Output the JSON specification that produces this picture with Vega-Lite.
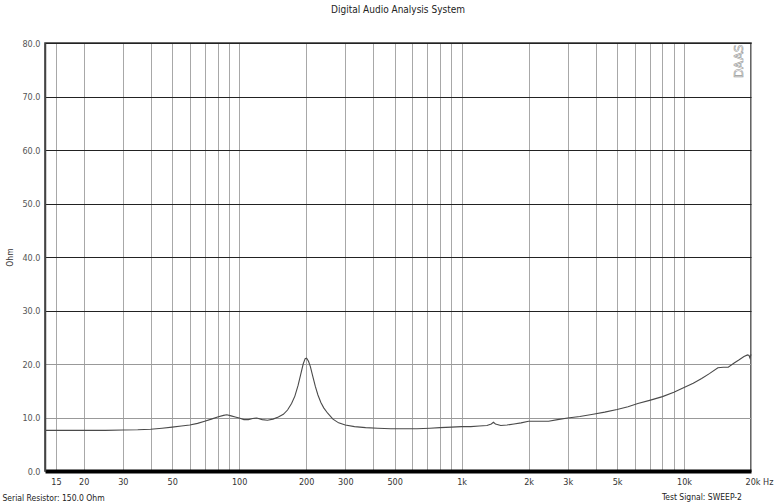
{
  "$schema": "https://vega.github.io/schema/vega-lite/v6.json",
  "width": 706,
  "height": 428,
  "autosize": {"type": "none"},
  "padding": {"left": 45, "top": 43, "right": 30, "bottom": 32},
  "background": "white",
  "title": {
    "text": "Digital Audio Analysis System",
    "fontSize": 10,
    "fontWeight": "normal",
    "font": "Liberation Sans Narrow, DejaVu Sans Condensed, Arial Narrow, sans-serif",
    "color": "#222",
    "anchor": "middle",
    "offset": 24
  },
  "config": {
    "view": {"stroke": "#333", "strokeWidth": 1.5},
    "font": "Liberation Sans Narrow, DejaVu Sans Condensed, Arial Narrow, sans-serif"
  },
  "layer": [
    {
      "data": {
        "values": [
          {"f": 13.4, "ohm": 7.6}, {"f": 15, "ohm": 7.6}, {"f": 20, "ohm": 7.6}, {"f": 25, "ohm": 7.6},
          {"f": 30, "ohm": 7.65}, {"f": 35, "ohm": 7.7}, {"f": 40, "ohm": 7.8}, {"f": 45, "ohm": 8.0},
          {"f": 50, "ohm": 8.2}, {"f": 55, "ohm": 8.4}, {"f": 60, "ohm": 8.6}, {"f": 65, "ohm": 8.9},
          {"f": 70, "ohm": 9.3}, {"f": 75, "ohm": 9.7}, {"f": 80, "ohm": 10.1}, {"f": 85, "ohm": 10.4},
          {"f": 88, "ohm": 10.5}, {"f": 92, "ohm": 10.3}, {"f": 96, "ohm": 10.1}, {"f": 100, "ohm": 9.9},
          {"f": 105, "ohm": 9.6}, {"f": 110, "ohm": 9.6}, {"f": 115, "ohm": 9.8}, {"f": 120, "ohm": 9.9},
          {"f": 127, "ohm": 9.6}, {"f": 134, "ohm": 9.5}, {"f": 142, "ohm": 9.7}, {"f": 150, "ohm": 10.1},
          {"f": 158, "ohm": 10.6}, {"f": 165, "ohm": 11.4}, {"f": 172, "ohm": 12.6}, {"f": 178, "ohm": 14.0},
          {"f": 184, "ohm": 16.0}, {"f": 189, "ohm": 18.0}, {"f": 194, "ohm": 20.0}, {"f": 198, "ohm": 21.0},
          {"f": 201, "ohm": 21.1}, {"f": 205, "ohm": 20.5}, {"f": 209, "ohm": 19.5}, {"f": 214, "ohm": 17.8},
          {"f": 220, "ohm": 15.8}, {"f": 226, "ohm": 14.2}, {"f": 233, "ohm": 12.8}, {"f": 240, "ohm": 11.8},
          {"f": 250, "ohm": 10.8}, {"f": 264, "ohm": 9.7}, {"f": 280, "ohm": 9.0}, {"f": 300, "ohm": 8.6},
          {"f": 330, "ohm": 8.3}, {"f": 370, "ohm": 8.1}, {"f": 420, "ohm": 8.0}, {"f": 480, "ohm": 7.9},
          {"f": 550, "ohm": 7.9}, {"f": 630, "ohm": 7.9}, {"f": 720, "ohm": 8.0}, {"f": 800, "ohm": 8.1},
          {"f": 900, "ohm": 8.2}, {"f": 1000, "ohm": 8.3}, {"f": 1100, "ohm": 8.3}, {"f": 1200, "ohm": 8.4},
          {"f": 1300, "ohm": 8.5}, {"f": 1360, "ohm": 8.8}, {"f": 1390, "ohm": 9.1}, {"f": 1420, "ohm": 8.8},
          {"f": 1500, "ohm": 8.5}, {"f": 1600, "ohm": 8.6}, {"f": 1720, "ohm": 8.8}, {"f": 1850, "ohm": 9.0},
          {"f": 2000, "ohm": 9.3}, {"f": 2200, "ohm": 9.3}, {"f": 2460, "ohm": 9.3}, {"f": 2700, "ohm": 9.6},
          {"f": 3000, "ohm": 9.9}, {"f": 3400, "ohm": 10.2}, {"f": 3900, "ohm": 10.6}, {"f": 4400, "ohm": 11.0},
          {"f": 5000, "ohm": 11.5}, {"f": 5600, "ohm": 12.0}, {"f": 6200, "ohm": 12.6}, {"f": 7000, "ohm": 13.2},
          {"f": 8000, "ohm": 13.9}, {"f": 9000, "ohm": 14.7}, {"f": 10000, "ohm": 15.6}, {"f": 11000, "ohm": 16.4},
          {"f": 12000, "ohm": 17.3}, {"f": 13000, "ohm": 18.2}, {"f": 14200, "ohm": 19.3}, {"f": 15000, "ohm": 19.4},
          {"f": 15800, "ohm": 19.4}, {"f": 16800, "ohm": 20.2}, {"f": 17700, "ohm": 20.8}, {"f": 18600, "ohm": 21.4},
          {"f": 19300, "ohm": 21.7}, {"f": 19600, "ohm": 21.6}, {"f": 19800, "ohm": 21.1}, {"f": 20000, "ohm": 21.8}
        ]
      },
      "mark": {"type": "line", "color": "#4a4a4a", "strokeWidth": 1.1},
      "encoding": {
        "x": {
          "field": "f",
          "type": "quantitative",
          "scale": {"type": "log", "domain": [13.4, 20000], "nice": false},
          "axis": {
            "values": [15, 20, 30, 40, 50, 60, 70, 80, 90, 100, 200, 300, 400, 500, 600, 700, 800, 900, 1000, 2000, 3000, 4000, 5000, 6000, 7000, 8000, 9000, 10000, 20000],
            "labelExpr": "(datum.value == 40 || datum.value == 60 || datum.value == 70 || datum.value == 80 || datum.value == 90 || datum.value == 400 || datum.value == 600 || datum.value == 700 || datum.value == 800 || datum.value == 900 || datum.value == 4000 || datum.value == 6000 || datum.value == 7000 || datum.value == 8000 || datum.value == 9000) ? '' : (datum.value >= 1000 ? (datum.value / 1000 + 'k' + (datum.value == 20000 ? ' Hz' : '')) : (datum.value + ''))",
            "labelAlign": {"condition": {"test": "datum.value == 20000", "value": "left"}, "value": "center"},
            "labelOffset": {"condition": {"test": "datum.value == 20000", "value": -6}, "value": 0},
            "labelOverlap": false,
            "labelBound": false,
            "labelFlush": false,
            "labelFontSize": 9,
            "labelColor": "#333",
            "labelPadding": 6,
            "ticks": false,
            "domain": true,
            "domainColor": "#000",
            "domainWidth": 4,
            "grid": true,
            "gridColor": "#a8a8a8",
            "gridWidth": 1,
            "title": "Serial Resistor: 150.0 Ohm",
            "titleFontSize": 8.5,
            "titleFontWeight": "normal",
            "titleColor": "#222",
            "titleAlign": "left",
            "titleAnchor": "start",
            "titleBaseline": "middle",
            "titleX": -43,
            "titleY": 26
          }
        },
        "y": {
          "field": "ohm",
          "type": "quantitative",
          "scale": {"domain": [0, 80], "nice": false},
          "axis": {
            "values": [0, 10, 20, 30, 40, 50, 60, 70, 80],
            "format": ".1f",
            "labelFontSize": 9,
            "labelColor": "#555",
            "labelPadding": 5,
            "ticks": false,
            "domainColor": "#444",
            "domainWidth": 1.5,
            "grid": true,
            "gridColor": {"condition": {"test": "datum.value <= 20", "value": "#999"}, "value": "#222"},
            "gridWidth": 1,
            "title": "Ohm",
            "titleFontSize": 8.5,
            "titleFontWeight": "normal",
            "titleColor": "#333",
            "titlePadding": 7
          }
        }
      }
    },
    {
      "data": {"values": [{}]},
      "mark": {"type": "text", "text": "DAAS", "angle": 270, "align": "right", "baseline": "bottom", "dx": -1.5, "dy": -5, "fontSize": 12, "fill": "white", "stroke": "#999", "strokeWidth": 0.6, "font": "DejaVu Sans"},
      "encoding": {"x": {"datum": 20000}, "y": {"datum": 80}}
    },
    {
      "data": {"values": [{}]},
      "mark": {"type": "text", "text": "Test Signal: SWEEP-2", "align": "right", "baseline": "middle", "dx": -9, "dy": 26, "fontSize": 8.5, "fill": "#222"},
      "encoding": {"x": {"datum": 20000}, "y": {"datum": 0}}
    }
  ]
}
